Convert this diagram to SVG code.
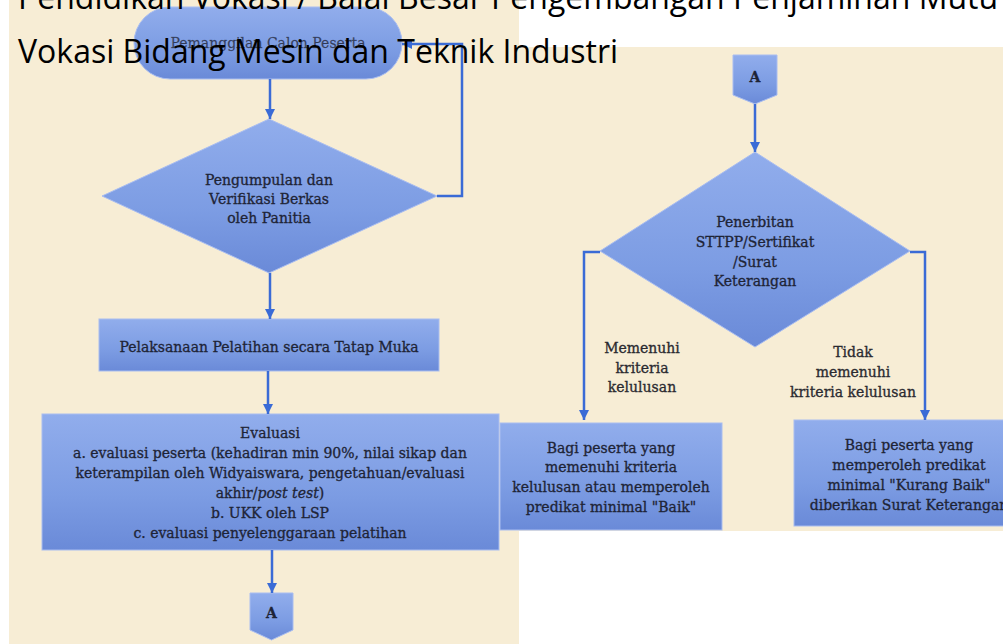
<svg xmlns="http://www.w3.org/2000/svg" width="1003" height="644" viewBox="0 0 1003 644">
<style>
.shape{fill:url(#g);stroke:#a9bdf0;stroke-width:1}
.t{font-family:"DejaVu Serif","Liberation Serif",serif;font-size:14px;fill:#1e2436;stroke:#1e2436;stroke-width:0.3;text-anchor:middle}
.lbl{font-family:"DejaVu Serif","Liberation Serif",serif;font-size:14px;fill:#2a2a30;stroke:#2a2a30;stroke-width:0.3;text-anchor:middle}
.c{fill:none;stroke:#3a6bd6;stroke-width:2.5}
.title{font-family:"Open Sans","Noto Sans",sans-serif;font-size:32px;fill:#000}
</style>
<defs>
<linearGradient id="g" x1="0" y1="0" x2="0" y2="1">
<stop offset="0" stop-color="#91adec"/>
<stop offset="0.6" stop-color="#7c9ce3"/>
<stop offset="1" stop-color="#6a8ad8"/>
</linearGradient>
<marker id="ah" markerUnits="userSpaceOnUse" markerWidth="11" markerHeight="11" refX="10" refY="5.5" orient="auto">
<path d="M0,0.5 L10,5.5 L0,10.5 z" fill="#3a6bd6"/>
</marker>
</defs>
<rect x="0" y="0" width="1003" height="644" fill="#ffffff"/>
<rect x="9" y="0" width="510" height="644" fill="#f7edd5"/>
<rect x="9" y="47" width="994" height="484" fill="#f7edd5"/>

<g id="start">
<rect class="shape" x="134" y="7" width="268" height="72" rx="36" ry="36"/>
<text class="t" x="268" y="48" fill-opacity="0.75" stroke-opacity="0.5">Pemanggilan Calon Peserta</text>
</g>
<g id="verify">
<polygon class="shape" points="102,196 269,119 437,196 269,273"/>
<text class="t" x="269" y="185">Pengumpulan dan</text>
<text class="t" x="269" y="204">Verifikasi Berkas</text>
<text class="t" x="269" y="223">oleh Panitia</text>
</g>
<g id="training">
<rect class="shape" x="99" y="319" width="340" height="52"/>
<text class="t" x="269" y="352">Pelaksanaan Pelatihan secara Tatap Muka</text>
</g>
<g id="evaluasi">
<rect class="shape" x="42" y="414" width="457" height="136"/>
<text class="t" x="270" y="438">Evaluasi</text>
<text class="t" x="270" y="458">a. evaluasi peserta (kehadiran min 90%, nilai sikap dan</text>
<text class="t" x="270" y="478">keterampilan oleh Widyaiswara, pengetahuan/evaluasi</text>
<text class="t" x="270" y="498">akhir/<tspan font-style="italic">post test</tspan>)</text>
<text class="t" x="270" y="518">b. UKK oleh LSP</text>
<text class="t" x="270" y="538">c. evaluasi penyelenggaraan pelatihan</text>
</g>
<g id="connA1">
<polygon class="shape" points="250,593 293,593 293,630 271.5,640 250,630"/>
<text class="t" x="271.5" y="618" font-weight="bold">A</text>
</g>
<g id="connA2">
<polygon class="shape" points="733,55 777,55 777,95 755,104 733,95"/>
<text class="t" x="755" y="82" font-weight="bold">A</text>
</g>
<g id="issue">
<polygon class="shape" points="600,251 755,152 910,251 755,347"/>
<text class="t" x="755" y="227">Penerbitan</text>
<text class="t" x="755" y="247">STTPP/Sertifikat</text>
<text class="t" x="755" y="267">/Surat</text>
<text class="t" x="755" y="286">Keterangan</text>
</g>
<g id="pass">
<rect class="shape" x="500" y="423" width="222" height="107"/>
<text class="t" x="611" y="453">Bagi peserta yang</text>
<text class="t" x="611" y="472">memenuhi kriteria</text>
<text class="t" x="611" y="492">kelulusan atau memperoleh</text>
<text class="t" x="611" y="512">predikat minimal "Baik"</text>
</g>
<g id="fail">
<rect class="shape" x="794" y="420" width="230" height="106"/>
<text class="t" x="909" y="450">Bagi peserta yang</text>
<text class="t" x="909" y="470">memperoleh predikat</text>
<text class="t" x="909" y="490">minimal "Kurang Baik"</text>
<text class="t" x="909" y="510">diberikan Surat Keterangan</text>
</g>

<g id="connectors">
<path class="c" d="M270,79 V119" marker-end="url(#ah)"/>
<path class="c" d="M437,196 H462 V44 H402" marker-end="url(#ah)"/>
<path class="c" d="M270,273 V319" marker-end="url(#ah)"/>
<path class="c" d="M268,371 V414" marker-end="url(#ah)"/>
<path class="c" d="M272,550 V593" marker-end="url(#ah)"/>
<path class="c" d="M755,104 V152" marker-end="url(#ah)"/>
<path class="c" d="M600,252 H584 V420" marker-end="url(#ah)"/>
<path class="c" d="M910,252 H925 V420" marker-end="url(#ah)"/>
<text class="lbl" x="642" y="353">Memenuhi</text>
<text class="lbl" x="642" y="373">kriteria</text>
<text class="lbl" x="642" y="392">kelulusan</text>
<text class="lbl" x="853" y="357">Tidak</text>
<text class="lbl" x="853" y="377">memenuhi</text>
<text class="lbl" x="853" y="397">kriteria kelulusan</text>
</g>

<text class="title" x="18" y="9">Pendidikan Vokasi / Balai Besar Pengembangan Penjaminan Mutu</text>
<text class="title" x="18" y="63">Vokasi Bidang Mesin dan Teknik Industri</text>
</svg>
